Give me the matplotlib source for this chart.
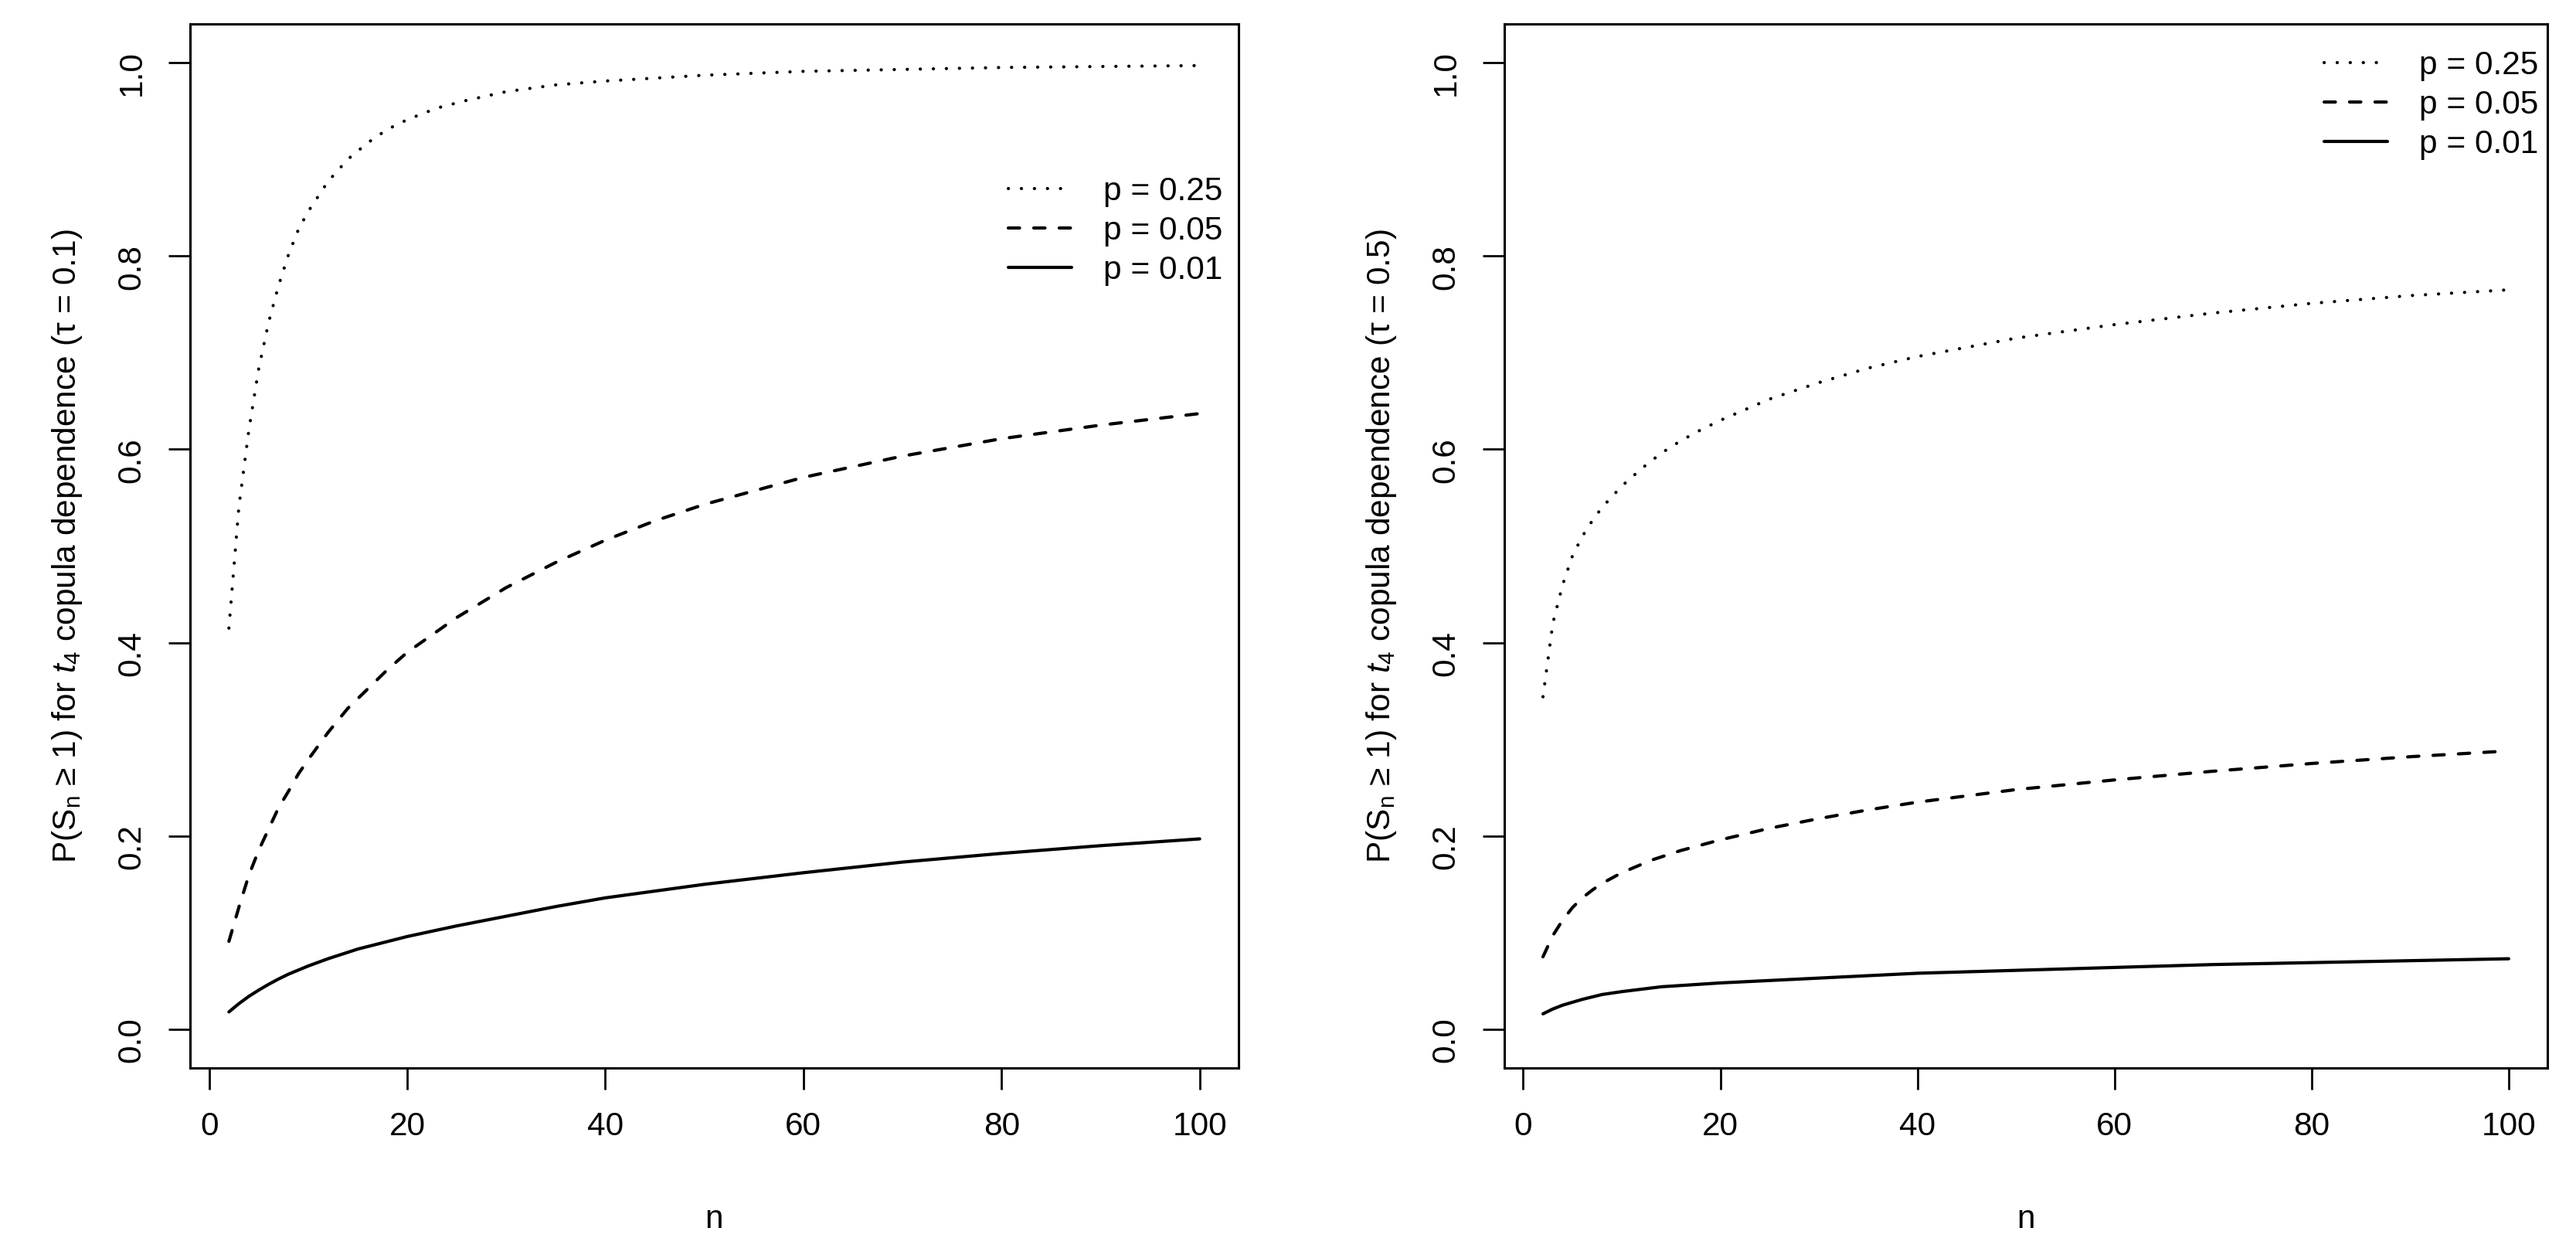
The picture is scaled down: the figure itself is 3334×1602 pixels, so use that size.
import numpy as np
import matplotlib
matplotlib.use("Agg")
import matplotlib.pyplot as plt

plt.rcParams['font.family'] = ['Liberation Sans', 'DejaVu Sans']
plt.rcParams['mathtext.fontset'] = 'custom'
plt.rcParams['mathtext.rm'] = 'Liberation Sans'
plt.rcParams['mathtext.it'] = 'Liberation Sans:italic'

# tau = 0.1 panel
n_a25 = [2, 3, 4, 5, 6, 7, 8, 9, 10, 12, 14, 16, 18, 20, 23, 26, 30, 35, 40, 50, 60, 70, 80, 90, 100]
p_a25 = [0.415, 0.540, 0.619, 0.683, 0.731, 0.769, 0.801, 0.827, 0.846, 0.877, 0.900, 0.917, 0.931,
         0.941, 0.953, 0.961, 0.970, 0.977, 0.981, 0.987, 0.991, 0.993, 0.995, 0.996, 0.997]
n_a05 = [2, 3, 4, 5, 6, 7, 8, 9, 10, 12, 14, 16, 18, 20, 25, 30, 35, 40, 45, 50, 60, 70, 80, 90, 100]
p_a05 = [0.091, 0.126, 0.159, 0.185, 0.207, 0.229, 0.246, 0.264, 0.279, 0.307, 0.332, 0.352, 0.372,
         0.390, 0.426, 0.457, 0.483, 0.506, 0.526, 0.543, 0.571, 0.593, 0.611, 0.625, 0.637]
n_a01 = [2, 3, 4, 5, 6, 7, 8, 10, 12, 15, 20, 25, 30, 35, 40, 50, 60, 70, 80, 90, 100]
p_a01 = [0.018, 0.0265, 0.034, 0.0405, 0.0465, 0.052, 0.057, 0.0655, 0.073, 0.083, 0.096, 0.107,
         0.117, 0.127, 0.136, 0.150, 0.162, 0.173, 0.182, 0.190, 0.197]

# tau = 0.5 panel
n_b25 = [2, 3, 4, 5, 6, 7, 8, 9, 10, 12, 14, 16, 18, 20, 25, 30, 35, 40, 50, 60, 70, 80, 90, 100]
p_b25 = [0.344, 0.420, 0.460, 0.490, 0.510, 0.526, 0.540, 0.551, 0.562, 0.580, 0.596, 0.609, 0.620,
         0.630, 0.652, 0.669, 0.684, 0.696, 0.715, 0.729, 0.741, 0.751, 0.759, 0.765]
n_b05 = [2, 3, 4, 5, 6, 7, 8, 10, 13, 16, 20, 25, 30, 35, 40, 50, 60, 70, 80, 90, 100]
p_b05 = [0.075, 0.097, 0.113, 0.126, 0.136, 0.144, 0.151, 0.162, 0.175, 0.185, 0.196, 0.208, 0.218,
         0.227, 0.235, 0.248, 0.258, 0.267, 0.275, 0.282, 0.288]
n_b01 = [2, 3, 4, 5, 6, 8, 10, 14, 20, 30, 40, 50, 60, 70, 80, 90, 100]
p_b01 = [0.016, 0.021, 0.025, 0.028, 0.031, 0.036, 0.039, 0.044, 0.048, 0.053, 0.058, 0.061, 0.064,
         0.067, 0.069, 0.071, 0.073]

labels = ['p = 0.25', 'p = 0.05', 'p = 0.01']
taus = ['0.1', '0.5']

FS = 30.5
LW = 3.0
styles = [dict(linestyle=(0, (0.05, 4.0)), dash_capstyle='round'),
          dict(linestyle=(0, (3.5, 4.4)), dash_capstyle='round'),
          dict(linestyle='-', solid_capstyle='round')]

fig = plt.figure(figsize=(33.34, 16.02), dpi=100)
axes = [fig.add_axes([0.07379, 0.13733, 0.4070, 0.8433]),
        fig.add_axes([0.58398, 0.13733, 0.4049, 0.8433])]

panels = [[(n_a25, p_a25), (n_a05, p_a05), (n_a01, p_a01)],
          [(n_b25, p_b25), (n_b05, p_b05), (n_b01, p_b01)]]
leg_anchor = [(0.3914, 0.8575), (0.9022, 0.9595)]

for ax, series, tau, anc in zip(axes, panels, taus, leg_anchor):
    for (x, y), st, lab in zip(series, styles, labels):
        ax.plot(x, y, color='black', lw=LW, label=lab, **st)
    ax.set_xlim(-1.92, 103.92)
    ax.set_ylim(-0.04, 1.04)
    ax.set_xticks([0, 20, 40, 60, 80, 100])
    ax.set_yticks([0.0, 0.2, 0.4, 0.6, 0.8, 1.0])
    ax.set_yticklabels(['0.0', '0.2', '0.4', '0.6', '0.8', '1.0'])
    ax.tick_params(length=20, width=2.0, labelsize=FS, pad=20)
    ax.tick_params(axis='y', labelrotation=90)
    for sp in ax.spines.values():
        sp.set_linewidth(2.2)
    ax.set_xlabel('n', fontsize=FS, labelpad=58)
    ax.set_ylabel('P(S$_\\mathregular{n}$ ≥ 1) for $t_4$ copula dependence (τ = ' + tau + ')',
                  fontsize=FS, labelpad=30)
    leg = ax.legend(loc='upper left', bbox_to_anchor=anc, bbox_transform=fig.transFigure,
                    frameon=False, fontsize=FS, handlelength=1.93, handletextpad=0.97,
                    labelspacing=0.26, borderpad=0, borderaxespad=0)

fig.savefig('out.png', dpi=100)
